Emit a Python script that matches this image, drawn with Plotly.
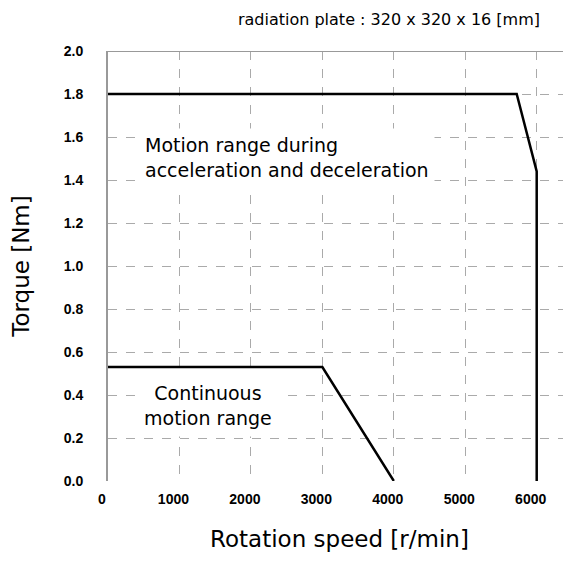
import plotly.graph_objects as go

# Data
cont_speed = [0, 3000, 4000]
cont_torque = [0.53, 0.53, 0.0]
accel_speed = [0, 5720, 6000, 6000]
accel_torque = [1.8, 1.8, 1.44, 0.0]

x_ticks = [0, 1000, 2000, 3000, 4000, 5000, 6000]
y_ticks = [0.0, 0.2, 0.4, 0.6, 0.8, 1.0, 1.2, 1.4, 1.6, 1.8, 2.0]

fig = go.Figure()
fig.add_trace(go.Scatter(x=accel_speed, y=accel_torque, mode="lines",
                         line=dict(color="black", width=2.5), showlegend=False))
fig.add_trace(go.Scatter(x=cont_speed, y=cont_torque, mode="lines",
                         line=dict(color="black", width=2.5), showlegend=False))

fig.add_annotation(x=430, y=1.505, xref="x", yref="y", xanchor="left", yanchor="middle",
                   text="Motion range during<br>acceleration and deceleration",
                   showarrow=False, align="left", bgcolor="white", borderpad=5,
                   font=dict(family="DejaVu Sans", size=19, color="black"))
fig.add_annotation(x=1400, y=0.35, xref="x", yref="y", xanchor="center", yanchor="middle",
                   text="Continuous<br>motion range",
                   showarrow=False, align="center", bgcolor="white", borderpad=7,
                   font=dict(family="DejaVu Sans", size=19, color="black"))

fig.add_shape(type="line", xref="paper", yref="y", x0=0, x1=1, y0=2.0, y1=2.0,
              line=dict(color="#999", width=2))

fig.update_layout(
    width=563, height=553,
    margin=dict(l=100, r=0, t=43, b=80),
    paper_bgcolor="white", plot_bgcolor="white",
    title=dict(text="radiation plate : 320 x 320 x 16 [mm]", x=532 / 563, xanchor="right",
               y=1 - 11 / 553, yanchor="middle",
               font=dict(family="DejaVu Sans", size=16, color="black")),
    xaxis=dict(range=[0, 6480], tickvals=x_ticks, ticktext=[str(v) for v in x_ticks],
               showgrid=True, gridcolor="#aaa", griddash="dash", gridwidth=1,
               zeroline=False, showline=False, ticks="", automargin=False,
               ticklabelstandoff=8, ticklabelshift=-6,
               tickfont=dict(family="Liberation Sans", size=14, color="black", weight="bold"),
               title=dict(text="Rotation speed [r/min]", standoff=24,
                          font=dict(family="DejaVu Sans", size=23, color="black"))),
    yaxis=dict(range=[0, 2.0], tickvals=y_ticks, ticktext=[f"{v:.1f}" for v in y_ticks],
               showgrid=True, gridcolor="#aaa", griddash="dash", gridwidth=1,
               zeroline=False, showline=True, linecolor="#999", linewidth=2, ticks="",
               ticklabelstandoff=20, automargin=False,
               tickfont=dict(family="Liberation Sans", size=14, color="black", weight="bold"),
               title=dict(text="Torque [Nm]", standoff=30,
                          font=dict(family="DejaVu Sans", size=23, color="black"))),
)

fig.write_html("out.html")
